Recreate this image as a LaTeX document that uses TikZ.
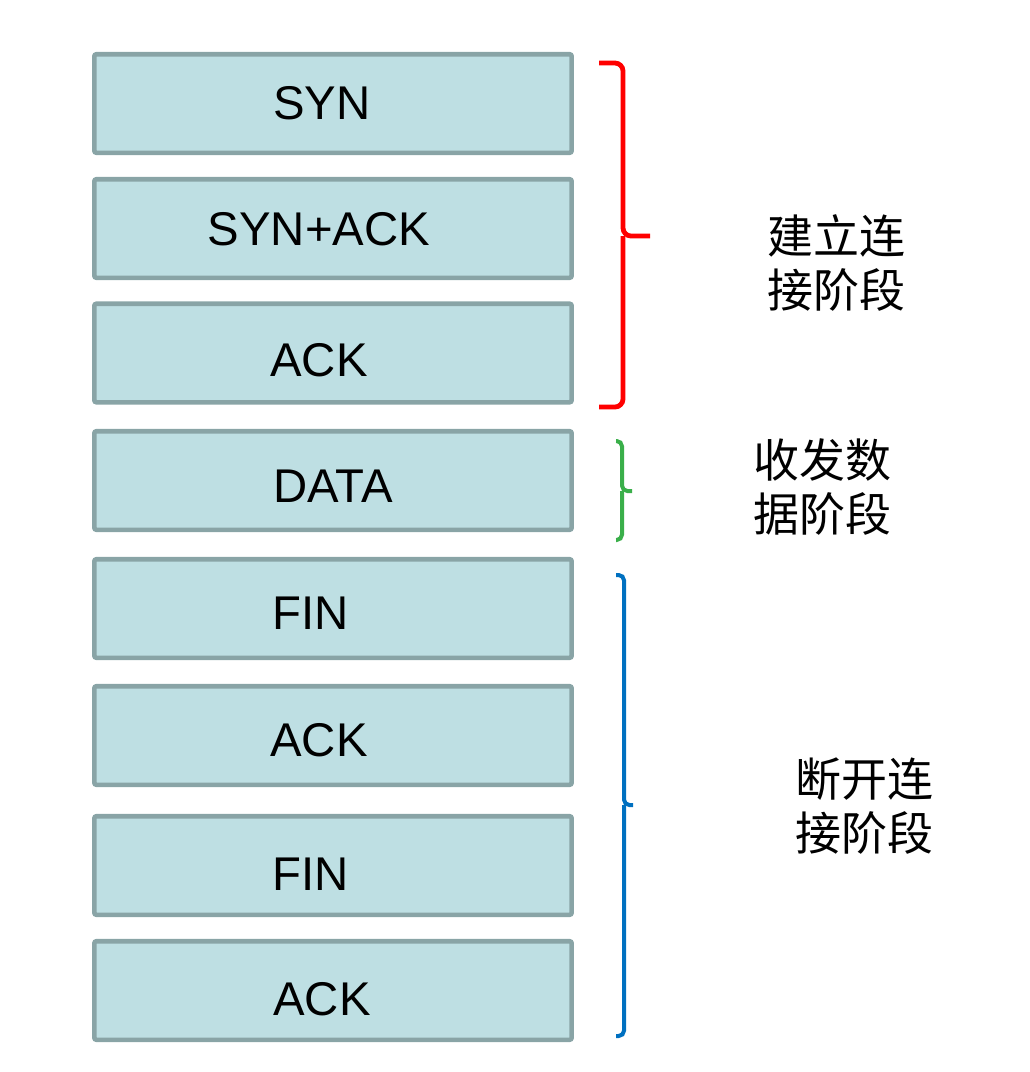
\documentclass[tikz,border=0pt]{standalone}
\usepackage{fontspec}
\setmainfont{Liberation Sans}
\newfontfamily\cjk{Noto Sans CJK SC}

\definecolor{boxfill}{HTML}{BEDFE3}
\definecolor{boxline}{HTML}{89A4A6}
\definecolor{bracered}{HTML}{FF0000}
\definecolor{bracegreen}{HTML}{3AAF4A}
\definecolor{braceblue}{HTML}{0070C0}

\begin{document}
\begin{tikzpicture}[x=0.75pt,y=-0.75pt,
  seg/.style={draw=boxline,fill=boxfill,line width=3.4pt,rounded corners=1.5pt,
    minimum width=358pt,minimum height=73.9pt,inner sep=0pt},
  lbl/.style={font=\fontsize{35.5}{40}\selectfont,inner sep=0pt},
  phase/.style={font=\cjk\fontsize{34.5}{40.5}\selectfont,align=center,inner sep=0pt},
  brace/.style={line width=3.6pt}]
\useasboundingbox (0,0) rectangle (1030,1072);

% segments
\node[seg] (syn)    at (333,103.5) {};
\node[seg] (synack) at (333,228.5) {};
\node[seg] (ack1)   at (333,353)   {};
\node[seg] (data)   at (333,480.5) {};
\node[seg] (fin1)   at (333,608.5) {};
\node[seg] (ack2)   at (333,735.5) {};
\node[seg] (fin2)   at (333,865.5) {};
\node[seg] (ack3)   at (333,990.5) {};

% segment labels
\node[lbl] (tsyn)    at (322,103.5) {SYN};
\node[lbl] (tsynack) at (319,229.5) {SYN+ACK};
\node[lbl] (tack1)   at (319,360)   {ACK};
\node[lbl] (tdata)   at (333,486.5) {DATA};
\node[lbl] (tfin1)   at (311,613)   {FIN};
\node[lbl] (tack2)   at (319,740)   {ACK};
\node[lbl] (tfin2)   at (311,874)   {FIN};
\node[lbl] (tack3)   at (322,999)   {ACK};

% braces
\draw[brace,bracered,rounded corners=6pt] (599,63)--(623,63)--(623,236)--(650,236);
\draw[brace,bracered,rounded corners=6pt] (599,407)--(623,407)--(623,236);
\draw[brace,bracegreen,line width=3pt,rounded corners=4pt] (616,441)--(622,441)--(622,491)--(632,491);
\draw[brace,bracegreen,line width=3pt,rounded corners=4pt] (616,540)--(622,540)--(622,491);
\draw[brace,braceblue,line width=3pt,rounded corners=4pt] (616,575)--(624,575)--(624,805)--(633,805);
\draw[brace,braceblue,line width=3pt,rounded corners=4pt] (616,1036)--(624,1036)--(624,805);

% phases
\node[phase] (open)  at (836,263) {建立连\\接阶段};
\node[phase] (xfer)  at (822,487) {收发数\\据阶段};
\node[phase] (close) at (864,806) {断开连\\接阶段};

\end{tikzpicture}
\end{document}
